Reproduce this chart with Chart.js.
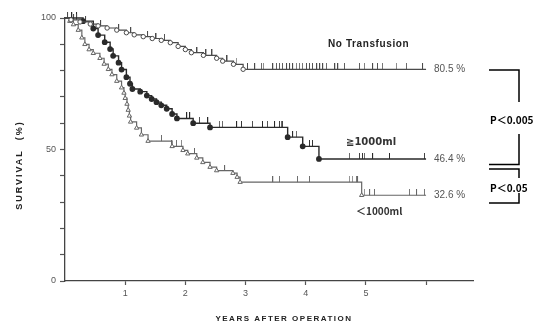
<!DOCTYPE html>
<html>
<head>
<meta charset="utf-8">
<script src="https://cdn.jsdelivr.net/npm/chart.js@4.4.0/dist/chart.umd.min.js"></script>
<style>
html, body { margin: 0; padding: 0; background: #fff; }
#wrap { width: 544px; height: 323px; }
</style>
</head>
<body>
<div id="wrap"><canvas id="myChart" width="544" height="323"></canvas></div>
<script>
// Kaplan-Meier steps: years after operation / survival (%)
const noTransYears = [0, 0.1, 0.25, 0.42, 0.55, 0.7, 0.86, 1.02, 1.15, 1.3, 1.45, 1.6, 1.75, 1.88, 2.0, 2.1, 2.3, 2.52, 2.62, 2.8, 2.96, 6.0];
const noTransSurv  = [100, 99.3, 98.5, 97.7, 97.0, 96.2, 95.4, 94.4, 93.6, 92.9, 92.2, 91.5, 90.6, 89.2, 88.0, 86.8, 85.8, 84.7, 83.6, 82.4, 80.5, 80.5];

const bigYears = [0, 0.3, 0.47, 0.55, 0.66, 0.75, 0.8, 0.89, 0.94, 1.02, 1.08, 1.12, 1.25, 1.36, 1.44, 1.52, 1.6, 1.69, 1.78, 1.86, 2.13, 2.41, 3.7, 3.95, 4.22, 6.0];
const bigSurv  = [100, 98.8, 96.0, 93.5, 90.8, 88.2, 85.6, 83.0, 80.4, 77.5, 75.0, 73.0, 72.0, 70.5, 69.2, 68.0, 66.8, 65.5, 63.5, 61.8, 60.0, 58.4, 54.7, 51.2, 46.4, 46.4];

const smallYears = [0, 0.08, 0.14, 0.22, 0.28, 0.33, 0.4, 0.47, 0.58, 0.65, 0.72, 0.78, 0.86, 0.94, 0.98, 1.0, 1.03, 1.05, 1.07, 1.09, 1.19, 1.27, 1.38, 1.78, 1.96, 2.04, 2.19, 2.29, 2.41, 2.52, 2.79, 2.86, 2.91, 4.93, 6.0];
const smallSurv  = [100, 98.8, 97.5, 95.4, 92.5, 90.0, 88.0, 86.6, 84.7, 82.5, 80.5, 78.5, 76.0, 73.5, 71.5, 69.5, 67.3, 65.0, 62.8, 60.5, 58.2, 55.6, 53.2, 51.2, 49.7, 48.4, 46.8, 45.1, 43.3, 42.0, 41.0, 39.5, 37.6, 32.6, 32.6];

// censored cases (years)
const noTransCensor = [0.05, 0.15, 0.2, 0.35, 0.6, 0.9, 1.1, 1.38, 1.52, 1.66, 2.2, 2.35, 2.45, 2.7, 2.85, 3.04, 3.16, 3.27, 3.3, 3.46, 3.52, 3.57, 3.62, 3.69, 3.74, 3.79, 3.85, 3.9, 3.95, 4.02, 4.07, 4.12, 4.19, 4.24, 4.29, 4.35, 4.49, 4.54, 4.65, 4.9, 4.98, 5.12, 5.2, 5.28, 5.51, 5.68, 5.95];
const bigCensor = [0.12, 0.2, 2.03, 2.08, 2.24, 2.38, 2.57, 2.62, 2.86, 2.94, 3.12, 3.29, 3.37, 3.49, 3.57, 3.6, 3.62, 3.79, 3.85, 4.07, 4.12, 4.73, 4.9, 4.95, 4.98, 5.12, 5.4, 5.98];
const smallCensor = [1.61, 1.78, 1.86, 1.94, 2.16, 2.66, 3.46, 3.57, 3.87, 4.07, 4.73, 4.78, 4.85, 4.87, 4.98, 5.07, 5.15, 5.73, 5.85, 5.98];

const xTickValues = [1, 2, 3, 4, 5, 6];
const xTickLabels = ['1', '2', '3', '4', '5', ''];
const yTickValues = [0, 10, 20, 30, 40, 50, 60, 70, 80, 90, 100];
const yTickLabels = ['0', '', '', '', '', '50', '', '', '', '', '100'];

function survAt(years, surv, t) {
    let s = surv[0];
    for (let i = 0; i < years.length; i++) {
        if (years[i] <= t) s = surv[i];
    }
    return s;
}

function steps(years, surv) {
    return years.map((t, i) => ({ x: t, y: surv[i] }));
}

function censorPoints(times, years, surv) {
    return times.map(t => ({ x: t, y: survAt(years, surv, t) }));
}

// small upward tick used for censored cases
function tickMark(color) {
    const c = document.createElement('canvas');
    c.width = 2;
    c.height = 12;
    const g = c.getContext('2d');
    g.fillStyle = color;
    g.fillRect(0, 0, 1, 6);
    return c;
}

function markerSize(r) {
    return ctx => {
        const n = ctx.dataset.data.length;
        return (ctx.dataIndex === 0 || ctx.dataIndex === n - 1) ? 0 : r;
    };
}

const grayDark = '#2a2a2a';
const grayMid = '#4a4a4a';
const grayLight = '#666666';

const annotations = {
    id: 'annotations',
    afterDraw(chart) {
        const ctx = chart.ctx;
        ctx.save();
        ctx.textBaseline = 'middle';
        ctx.textAlign = 'left';

        ctx.fillStyle = '#222';
        ctx.font = 'bold 10px "Liberation Sans", Arial, sans-serif';
        if ('letterSpacing' in ctx) ctx.letterSpacing = '0.6px';
        ctx.fillText('No Transfusion', 328, 44);
        if ('letterSpacing' in ctx) ctx.letterSpacing = '0px';

        ctx.fillStyle = '#555';
        ctx.font = '10px "Liberation Sans Narrow", "Liberation Sans", sans-serif';
        ctx.fillText('80.5 %', 434, 69);
        ctx.fillText('46.4 %', 434, 159);
        ctx.fillText('32.6 %', 434, 195);

        ctx.fillStyle = '#333';
        ctx.font = 'bold 10px "DejaVu Sans", "Noto Sans CJK JP", sans-serif';
        ctx.fillText('≧1000ml', 346, 142);
        ctx.font = 'bold 10px "Noto Sans CJK JP", "DejaVu Sans", sans-serif';
        ctx.fillText('＜1000ml', 356, 211);

        ctx.fillStyle = '#000';
        ctx.font = 'bold 10px "Noto Sans CJK JP", "Liberation Sans", sans-serif';
        ctx.fillText('P＜0.005', 490, 120);
        ctx.fillText('P＜0.05', 490, 188);

        // brackets
        ctx.strokeStyle = '#000';
        ctx.lineWidth = 1.5;
        ctx.beginPath();
        ctx.moveTo(489, 70); ctx.lineTo(519, 70); ctx.lineTo(519, 102);
        ctx.moveTo(519, 134); ctx.lineTo(519, 164.5); ctx.lineTo(489, 164.5);
        ctx.moveTo(489, 169); ctx.lineTo(519, 169); ctx.lineTo(519, 178);
        ctx.moveTo(519, 193); ctx.lineTo(519, 203); ctx.lineTo(489, 203);
        ctx.stroke();

        // axis titles
        ctx.fillStyle = '#222';
        ctx.font = 'bold 8px "Liberation Sans", Arial, sans-serif';
        ctx.textAlign = 'center';
        if ('letterSpacing' in ctx) ctx.letterSpacing = '1.5px';
        ctx.fillText('YEARS AFTER OPERATION', 284, 319);
        ctx.translate(20, 165);
        ctx.rotate(-Math.PI / 2);
        ctx.font = 'bold 9px "Liberation Sans", Arial, sans-serif';
        if ('letterSpacing' in ctx) ctx.letterSpacing = '2px';
        ctx.fillText('SURVIVAL  (%)', 0, 0);
        ctx.restore();
    }
};

const data = {
    datasets: [
        {
            label: 'No Transfusion',
            data: steps(noTransYears, noTransSurv),
            stepped: true,
            borderColor: grayMid,
            borderWidth: 1.2,
            pointStyle: 'circle',
            pointRadius: markerSize(2.2),
            pointBackgroundColor: '#fff',
            pointBorderColor: grayMid,
            pointBorderWidth: 1,
            clip: false
        },
        {
            label: '≧1000ml',
            data: steps(bigYears, bigSurv),
            stepped: true,
            borderColor: grayDark,
            borderWidth: 1.4,
            pointStyle: 'circle',
            pointRadius: markerSize(2.2),
            pointBackgroundColor: grayDark,
            pointBorderColor: grayDark,
            clip: false
        },
        {
            label: '＜1000ml',
            data: steps(smallYears, smallSurv),
            stepped: true,
            borderColor: grayLight,
            borderWidth: 1.2,
            pointStyle: 'triangle',
            pointRadius: markerSize(2.5),
            pointBackgroundColor: '#fff',
            pointBorderColor: grayLight,
            pointBorderWidth: 1,
            clip: false
        },
        {
            type: 'scatter',
            data: censorPoints(noTransCensor, noTransYears, noTransSurv),
            pointStyle: tickMark(grayMid),
            clip: false
        },
        {
            type: 'scatter',
            data: censorPoints(bigCensor, bigYears, bigSurv),
            pointStyle: tickMark(grayDark),
            clip: false
        },
        {
            type: 'scatter',
            data: censorPoints(smallCensor, smallYears, smallSurv),
            pointStyle: tickMark(grayLight),
            clip: false
        }
    ]
};

const config = {
    type: 'line',
    data,
    options: {
        responsive: false,
        animation: false,
        layout: { padding: { left: 0, right: 71, top: 18, bottom: 0 } },
        plugins: {
            legend: { display: false },
            tooltip: { enabled: false }
        },
        scales: {
            x: {
                type: 'linear',
                min: 0,
                max: 6.78,
                afterBuildTicks: s => { s.ticks = xTickValues.map(v => ({ value: v })); },
                afterFit: s => { s.height = 42; },
                ticks: {
                    callback: v => xTickLabels[xTickValues.indexOf(v)],
                    color: '#555',
                    font: { size: 9, family: '"Liberation Sans", Arial, sans-serif' },
                    padding: 3,
                    maxRotation: 0,
                    autoSkip: false
                },
                grid: { drawOnChartArea: false, tickLength: 4, color: '#555', tickWidth: 1.2 },
                border: { color: '#444', width: 1.3 }
            },
            y: {
                min: 0,
                max: 100,
                afterBuildTicks: s => { s.ticks = yTickValues.map(v => ({ value: v })); },
                afterFit: s => { s.width = 65; },
                ticks: {
                    callback: v => yTickLabels[yTickValues.indexOf(v)],
                    color: '#555',
                    font: { size: 9, family: '"Liberation Sans", Arial, sans-serif' },
                    padding: 4,
                    autoSkip: false
                },
                grid: { drawOnChartArea: false, tickLength: 5, color: '#555', tickWidth: 1.2 },
                border: { color: '#444', width: 1.3 }
            }
        }
    },
    plugins: [annotations]
};

var myChart = new Chart(
    document.getElementById('myChart'),
    config
);
</script>
</body>
</html>
